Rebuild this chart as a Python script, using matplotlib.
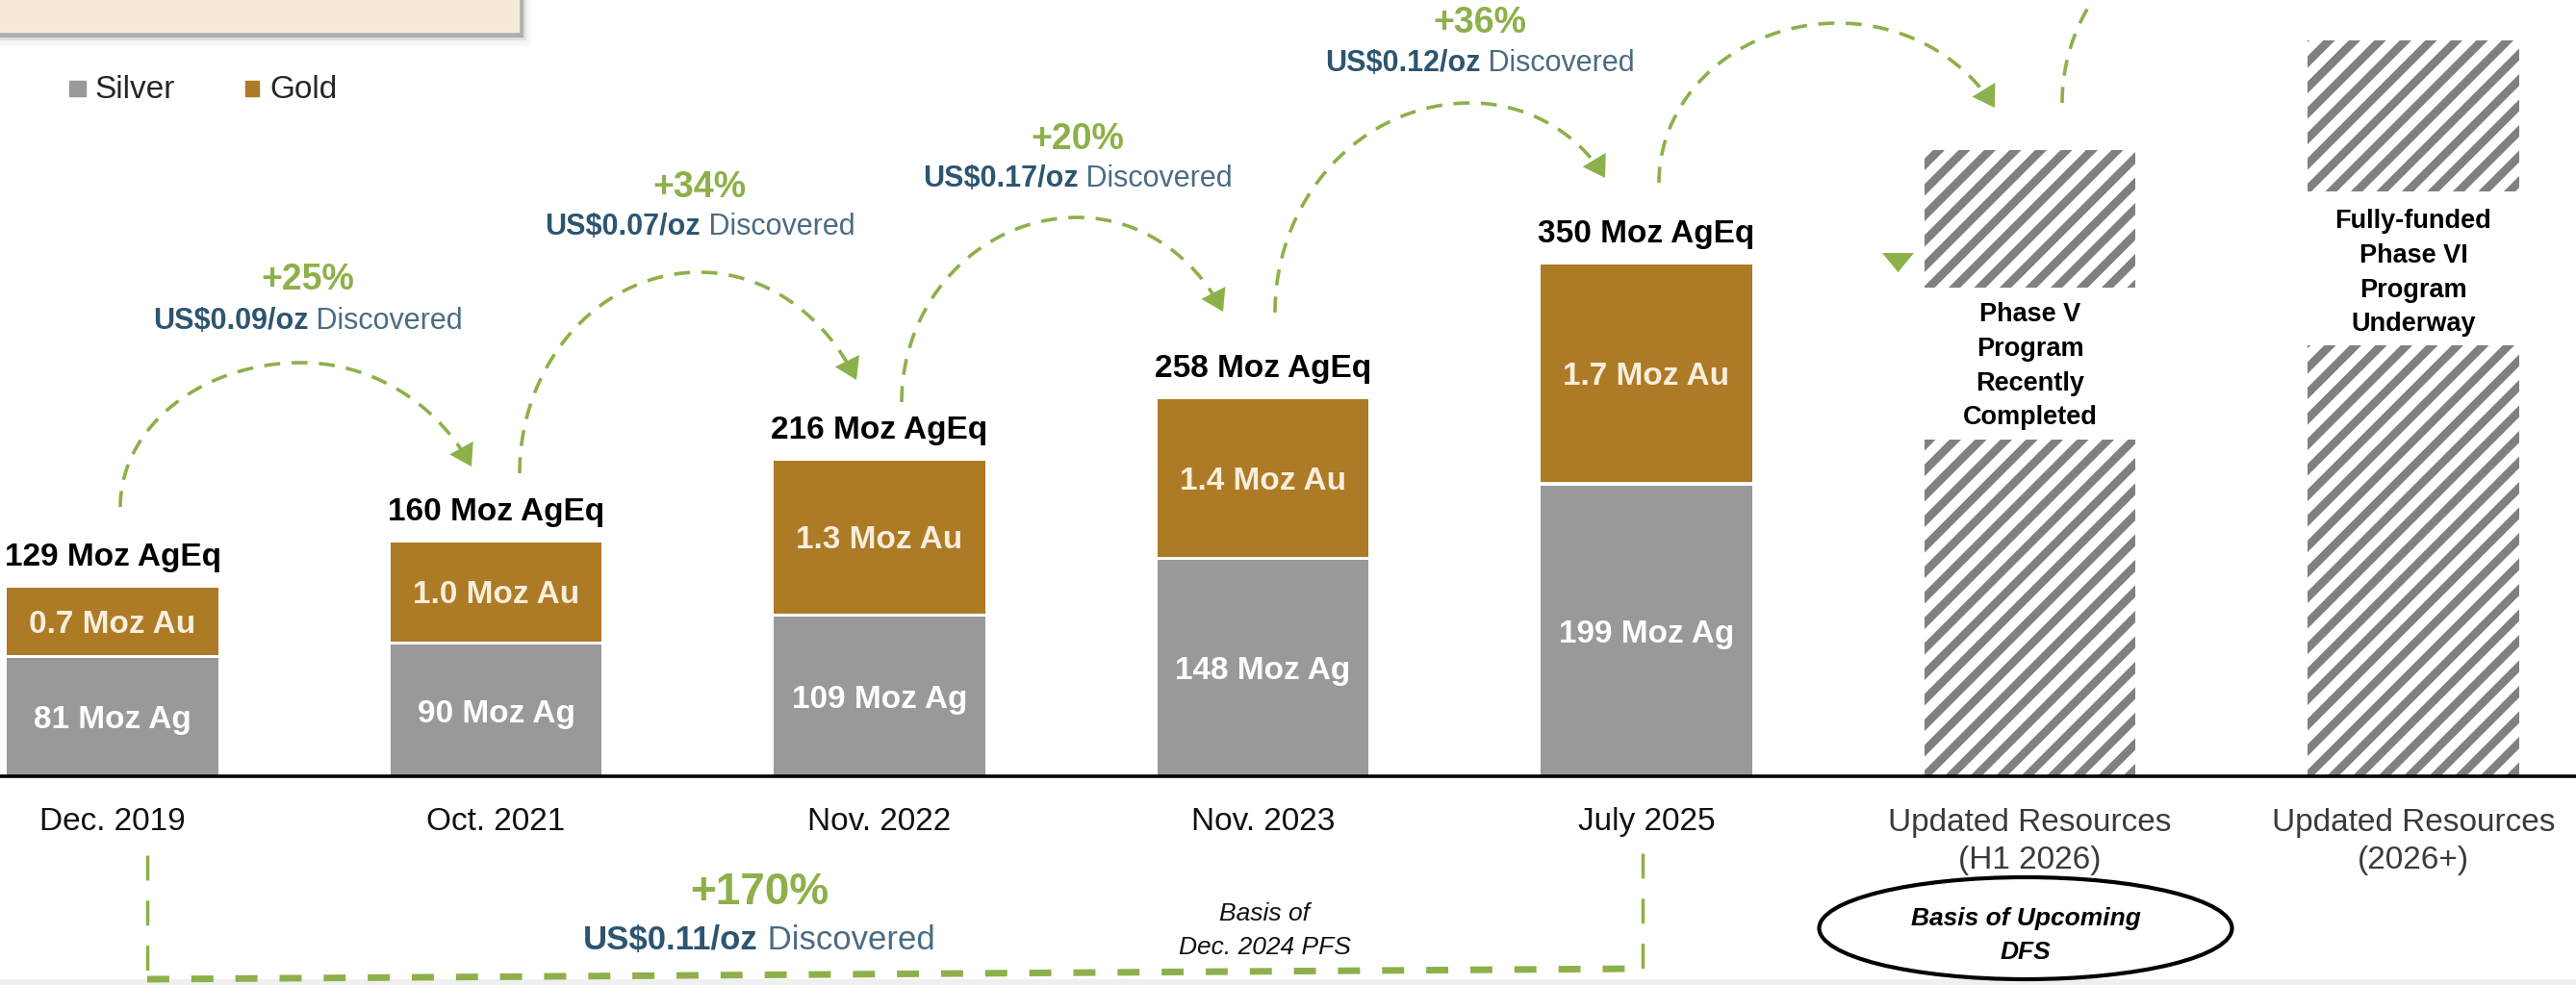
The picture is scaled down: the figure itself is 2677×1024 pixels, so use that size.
import numpy as np
import matplotlib
matplotlib.use("Agg")
import matplotlib.pyplot as plt
from matplotlib.patches import Rectangle, Polygon, Ellipse
from matplotlib.transforms import Affine2D
from matplotlib.collections import LineCollection

# ---------------- data ----------------
periods = ["Dec. 2019", "Oct. 2021", "Nov. 2022", "Nov. 2023", "July 2025"]
future_labels = [["Updated Resources", "(H1 2026)"], ["Updated Resources", "(2026+)"]]
silver_moz = [81, 90, 109, 148, 199]
total_moz_ageq = [129, 160, 216, 258, 350]
gold_moz_au = [0.7, 1.0, 1.3, 1.4, 1.7]
growth_pct = ["+25%", "+34%", "+20%", "+36%"]
discovery_cost = ["US$0.09/oz", "US$0.07/oz", "US$0.17/oz", "US$0.12/oz"]
overall_growth = "+170%"
overall_cost = "US$0.11/oz"
future_top = [428, 503]                    # hatched placeholder bars (chart units)
future_gap = [(230, 334), (295, 400)]      # blank band holding the caption
future_text = [["Phase V", "Program", "Recently", "Completed"],
               ["Fully-funded", "Phase VI", "Program", "Underway"]]

# ---------------- style ----------------
plt.rcParams["font.family"] = ["Liberation Sans", "DejaVu Sans"]
SILVER = "#999999"
GOLD = "#AD7A25"
GREEN = "#8DB04A"
TEAL = "#2D5570"
TEAL2 = "#4A6C83"
HATCH = "#808080"

W, H = 2677, 1024
fig = plt.figure(figsize=(W / 100, H / 100), dpi=100)
ax = fig.add_axes([0, 0, 1, 1])
ax.axis("off")
REF = Affine2D().scale(1 / W, -1 / H).translate(0, 1) + fig.transFigure
XL = (-117 / 398.5, (W - 117) / 398.5)
YL = (-(H - 807) / 1.52, 807 / 1.52)
ax.set_xlim(*XL)
ax.set_ylim(*YL)

bw = 0.55
gap = 2.0
x = np.arange(len(periods))
silver = np.array(silver_moz, float)
total = np.array(total_moz_ageq, float)

ax.bar(x, silver, width=bw, color=SILVER, zorder=2)
ax.bar(x, total - silver - gap, bottom=silver + gap, width=bw, color=GOLD, zorder=2)


def cap_text(xp, yc, s, size, weight="normal", style="normal", color="black",
             ha="center", transform=None):
    em = size * 100 / 72
    return ax.text(xp, yc + 0.358 * em, s, fontsize=size, fontweight=weight,
                   fontstyle=style, color=color, ha=ha, va="baseline",
                   transform=transform if transform is not None else REF,
                   zorder=6)


def data_cap_text(xd, yd, s, size, weight="bold", color="black"):
    return ax.annotate(s, xy=(xd, yd), xytext=(0, -0.358 * size),
                       textcoords="offset points", ha="center", va="baseline",
                       fontsize=size, fontweight=weight, color=color, zorder=6)


# labels on bars
for i in range(len(periods)):
    ax.text(x[i], total[i] + 15, f"{total_moz_ageq[i]} Moz AgEq", ha="center",
            va="baseline", fontsize=24, fontweight="bold", color="black", zorder=6)
    data_cap_text(x[i], (silver[i] + gap + total[i]) / 2, f"{gold_moz_au[i]:.1f} Moz Au",
                  24, color="#F7EEDC")
    data_cap_text(x[i], silver[i] / 2, f"{silver_moz[i]} Moz Ag", 24, color="white")

# hatched future bars
for k in range(2):
    xi = len(periods) + k
    lo, hi = future_gap[k]
    pieces = [ax.bar(xi, lo, width=bw, color="white", zorder=2)[0],
              ax.bar(xi, future_top[k] - hi, bottom=hi, width=bw, color="white", zorder=2)[0]]
    for patch in pieces:
        segs = []
        for c in np.arange(1800, 3700, 26.5):
            segs.append([(c + 50, -50), (c - 900, 900)])
        lc = LineCollection(segs, colors=HATCH, linewidths=6.2, transform=REF, zorder=3)
        ax.add_collection(lc, autolim=False)
        lc.set_clip_path(patch)
    bar_px = 117 + 398.5 * xi
    for j, line in enumerate(future_text[k]):
        yc = (324.5 if k == 0 else 227.5) + 35.7 * j
        cap_text(bar_px, yc, line, 19.5, weight="bold")

# baseline axis
ax.axhline(0, color="black", lw=2.6, zorder=5)

# category labels
for i, p in enumerate(periods):
    cap_text(117 + 398.5 * i, 851, p, 24, color="#111111")
for k, lines in enumerate(future_labels):
    xi = 117 + 398.5 * (len(periods) + k)
    cap_text(xi, 852, lines[0], 24, color="#3A3A3A")
    cap_text(xi, 891, lines[1], 24, color="#3A3A3A")

# legend
ax.add_patch(Rectangle((72, 84), 17, 16, transform=REF, color=SILVER, zorder=6))
cap_text(98, 90, "Silver", 24, ha="left", color="#262626")
ax.add_patch(Rectangle((255, 84), 14, 16, transform=REF, color=GOLD, zorder=6))
cap_text(280, 90, "Gold", 24, ha="left", color="#262626")

# top-left box with shadow
for (w_, h_, col) in [(550, 47, "#F6F6F6"), (546, 41, "#E2E2E2"), (543, 38, "#B0B0B0"),
                      (539, 33, "#F6EBD7")]:
    ax.add_patch(Rectangle((0, 0), w_, h_, transform=REF, color=col, zorder=1))

# bottom grey strip
ax.add_patch(Rectangle((0, 1018), W, 6, transform=REF, color="#EFEFEF", zorder=0))

renderer = fig.canvas.get_renderer()


def mixed(xc, yc, bold, regular, size, c1=TEAL, c2=TEAL2):
    t1 = ax.text(0, 0, bold, transform=REF, fontsize=size, fontweight="bold",
                 color=c1, va="baseline", ha="left", zorder=6)
    t2 = ax.text(0, 0, " " + regular, transform=REF, fontsize=size,
                 color=c2, va="baseline", ha="left", zorder=6)
    w1 = t1.get_window_extent(renderer).width
    w2 = t2.get_window_extent(renderer).width
    x0 = xc - (w1 + w2) / 2
    yb = yc + 0.358 * size * 100 / 72
    t1.set_position((x0, yb))
    t2.set_position((x0 + w1, yb))


# growth annotations
ann_x = [320, 727, 1120, 1538]
pct_y = [288, 192, 142, 21]
cost_y = [331, 233, 183, 63]
for k in range(4):
    cap_text(ann_x[k], pct_y[k], growth_pct[k], 27, weight="bold", color=GREEN)
    mixed(ann_x[k], cost_y[k], discovery_cost[k], "Discovered", 22)

# dashed arcs with arrowheads
LW = 2.6


def draw_arc(S, P, T=None, head=True):
    xs, ys = S
    xp, yp = P
    rx, ry = xp - xs, ys - yp
    th = np.linspace(np.pi, np.pi / 2, 150)
    px = list(xp + rx * np.cos(th))
    py = list(ys - ry * np.sin(th))
    if T is not None:
        xe, ye = T
        phi_e = np.deg2rad(60)
        a = (xe - xp) / np.sin(phi_e)
        b = (ye - yp) / (1 - np.cos(phi_e))
        ph = np.linspace(0, phi_e, 150)
        px += list(xp + a * np.sin(ph))
        py += list(yp + b * (1 - np.cos(ph)))
        d = np.array([a * np.cos(phi_e), b * np.sin(phi_e)])
        d /= np.hypot(*d)
        L, Wd = 22, 28
        base = np.array(T) - L * d
        nrm = np.array([-d[1], d[0]])
        px, py = np.array(px), np.array(py)
        keep = np.hypot(px - T[0], py - T[1]) > L - 2
        px, py = px[keep], py[keep]
        if head:
            ax.add_patch(Polygon([tuple(T), tuple(base + nrm * Wd / 2), tuple(base - nrm * Wd / 2)],
                                 closed=True, transform=REF, color=GREEN, zorder=4, lw=0))
    ax.plot(px, py, transform=REF, color=GREEN, lw=LW, dashes=(12 / LW, 8.5 / LW),
            dash_capstyle="butt", zorder=4)


arcs = [((125, 527), (313, 377), (490, 485)),
        ((540, 492), (727, 283), (890, 395)),
        ((937, 418), (1120, 226), (1271, 324)),
        ((1325, 325), (1528, 107), (1668, 185)),
        ((1724, 190), (1910, 24), (2073, 112))]
for S, P, T in arcs:
    draw_arc(S, P, T)
draw_arc((2143, 107), (2333, -86), None)

# small green marker triangle
ax.add_patch(Polygon([(1956, 263), (1989, 263), (1972.5, 283)], closed=True,
                     transform=REF, color=GREEN, lw=0, zorder=4))

# bottom bracket
ax.plot([153, 153], [889, 1018], transform=REF, color=GREEN, lw=2.5,
        dashes=(18.7 / 2.5, 15 / 2.5), dash_capstyle="butt", zorder=4)
ax.plot([1707, 1707], [887, 1007], transform=REF, color=GREEN, lw=2.5,
        dashes=(18.7 / 2.5, 15 / 2.5), dash_capstyle="butt", zorder=4)
ax.plot([153, 1707], [1018, 1007], transform=REF, color=GREEN, lw=5,
        dashes=(16.5 / 5, 16.5 / 5), dash_capstyle="butt", zorder=4)
cap_text(789, 924, overall_growth, 33, weight="bold", color=GREEN)
mixed(789, 975, overall_cost, "Discovered", 25)

cap_text(1314, 948, "Basis of", 19, style="italic", color="#111111")
cap_text(1314, 983, "Dec. 2024 PFS", 19, style="italic", color="#111111")

# ellipse callout
ax.add_patch(Ellipse((2105, 965), 429, 106, transform=REF, fill=False,
                     ec="black", lw=3, zorder=5))
cap_text(2105, 953, "Basis of Upcoming", 19, weight="bold", style="italic")
cap_text(2105, 988, "DFS", 19, weight="bold", style="italic")

ax.set_xlim(*XL)
ax.set_ylim(*YL)
fig.savefig("out.png", dpi=100)
